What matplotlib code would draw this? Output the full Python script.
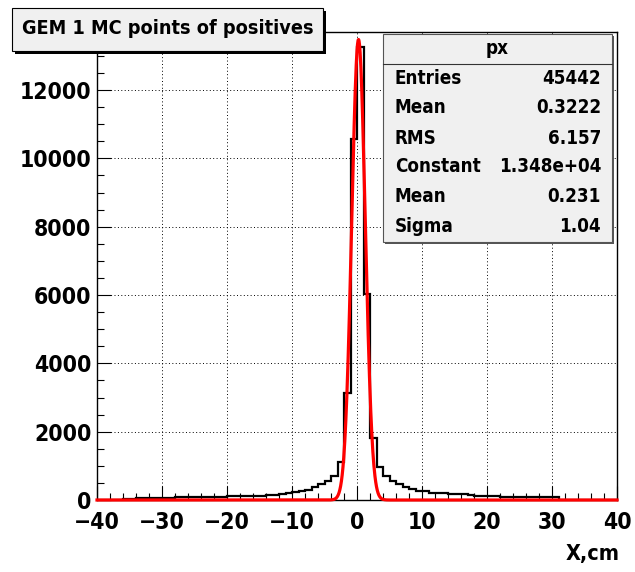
import numpy as np
import matplotlib
matplotlib.use("Agg")
import matplotlib.pyplot as plt
from matplotlib import font_manager as fm
from matplotlib.patches import Rectangle
from matplotlib.ticker import MultipleLocator

W, H = 635, 572

# ROOT draws Helvetica bold narrow; use a narrow face when one is installed
names = {f.name for f in fm.fontManager.ttflist}
cond = [f for f in fm.fontManager.ttflist
        if f.name.startswith('DejaVu Sans') and f.stretch in ('condensed', 'semi-condensed')]
STRETCH = 'normal'
if 'Liberation Sans Narrow' in names:
    FAMILY = 'Liberation Sans Narrow'
    FS_TICK, FS_XLAB, FS_TITLE, FS_STAT = 21, 19, 18, 16
elif cond:
    FAMILY, STRETCH = 'DejaVu Sans', 'condensed'
    FS_TICK, FS_XLAB, FS_TITLE, FS_STAT = 16.5, 15.5, 14.2, 13.5
else:
    FAMILY = 'Liberation Sans'
    FS_TICK, FS_XLAB, FS_TITLE, FS_STAT = 18, 16.5, 15, 14.5
plt.rcParams['font.family'] = [FAMILY, 'DejaVu Sans']
plt.rcParams['font.weight'] = 'bold'
plt.rcParams['font.stretch'] = STRETCH

# histogram: 80 bins of 1 cm from -40 to 40
bin_edges = np.arange(-40, 41, 1)
counts = [
    5, 8, 10, 12, 15,                        # -40 .. -35
    40, 45, 50, 50, 55,                      # -35 .. -30
    70, 72, 75, 78, 80, 85, 88, 92, 95, 100,  # -30 .. -20
    105, 108, 112, 115, 118, 122,            # -20 .. -14
    150, 160, 190, 205, 240, 255,            # -14 .. -8
    295, 370, 480, 560, 700, 1120, 3140, 10560,  # -8 .. 0
    13270, 6030, 1805, 970, 710, 570, 480, 390, 310, 270, 255,  # 0 .. 11
    215, 205, 195, 190,                      # 11 .. 15
    170, 165, 160,                           # 15 .. 18
    125, 120, 115, 110,                      # 18 .. 22
    100, 95, 95, 90, 90, 85, 85, 80, 80,     # 22 .. 31
    12, 10, 8, 8, 6, 5, 5, 4, 3,             # 31 .. 40
]

# gaussian fit parameters (from the stats box)
fit_const, fit_mean, fit_sigma = 1.348e4, 0.231, 1.04

stat_names = ["Entries", "Mean", "RMS", "Constant", "Mean", "Sigma"]
stat_values = ["45442", "0.3222", "6.157", "1.348e+04", "0.231", "1.04"]


def fx(px):
    return px / W


def fy(py):
    return 1 - py / H


fig = plt.figure(figsize=(W / 100, H / 100), dpi=100)
ax = fig.add_axes([fx(97), fy(500), (617 - 97) / W, (500 - 32) / H])

ax.grid(True, which='major', linestyle=(0, (1, 2.5)), color='black', lw=0.7)
ax.set_axisbelow(True)

ax.stairs(counts, bin_edges, color='black', lw=1.6, zorder=3)
xf = np.linspace(-40, 40, 2001)
yf = fit_const * np.exp(-0.5 * ((xf - fit_mean) / fit_sigma) ** 2)
ax.plot(xf, yf, color='#ff0000', lw=2.3, zorder=4, clip_on=False)

ax.set_xlim(-40, 40)
ax.set_ylim(0, 13700)
ax.xaxis.set_major_locator(MultipleLocator(10))
ax.xaxis.set_minor_locator(MultipleLocator(2))
ax.yaxis.set_major_locator(MultipleLocator(2000))
ax.yaxis.set_minor_locator(MultipleLocator(500))
ax.tick_params(which='both', direction='in', top=False, right=False, width=0.8,
               labelsize=FS_TICK)
ax.tick_params(which='major', length=10)
ax.tick_params(which='minor', length=5)
ax.tick_params(axis='x', pad=8)
ax.tick_params(axis='y', pad=4)
for s in ax.spines.values():
    s.set_linewidth(1.0)

# x axis title
fig.text(fx(620), fy(560), "X,cm", ha='right', va='baseline', fontsize=FS_XLAB,
         fontweight='bold')

# title box with shadow
fig.patches.append(Rectangle((fx(15), fy(54)), (323 - 12) / W, (51 - 8) / H,
                             transform=fig.transFigure, facecolor='black',
                             edgecolor='none', zorder=5))
fig.patches.append(Rectangle((fx(12), fy(51)), (323 - 12) / W, (51 - 8) / H,
                             transform=fig.transFigure, facecolor='#f0f0f0',
                             edgecolor='black', lw=0.8, zorder=6))
fig.text(fx(167.5), fy(29), "GEM 1 MC points of positives", ha='center',
         va='center', fontsize=FS_TITLE, fontweight='bold', zorder=7)

# stats box
fig.patches.append(Rectangle((fx(385), fy(244)), (612 - 383) / W, (242 - 34) / H,
                             transform=fig.transFigure, facecolor='#555555',
                             edgecolor='none', zorder=5))
fig.patches.append(Rectangle((fx(383), fy(242)), (612 - 383) / W, (242 - 34) / H,
                             transform=fig.transFigure, facecolor='#f0f0f0',
                             edgecolor='#555555', lw=0.8, zorder=6))
fig.lines.append(plt.Line2D([fx(383), fx(612)], [fy(63.5), fy(63.5)],
                            transform=fig.transFigure, color='#333333', lw=0.8,
                            zorder=7))
fig.text(fx(497), fy(48), "px", ha='center', va='center', fontsize=FS_STAT,
         fontweight='bold', zorder=8)
row_y = [78, 108, 138, 167, 197, 226]
for name, val, yy in zip(stat_names, stat_values, row_y):
    fig.text(fx(395), fy(yy), name, ha='left', va='center', fontsize=FS_STAT,
             fontweight='bold', zorder=8)
    fig.text(fx(601), fy(yy), val, ha='right', va='center', fontsize=FS_STAT,
             fontweight='bold', zorder=8)

fig.savefig("out.png", dpi=100)
